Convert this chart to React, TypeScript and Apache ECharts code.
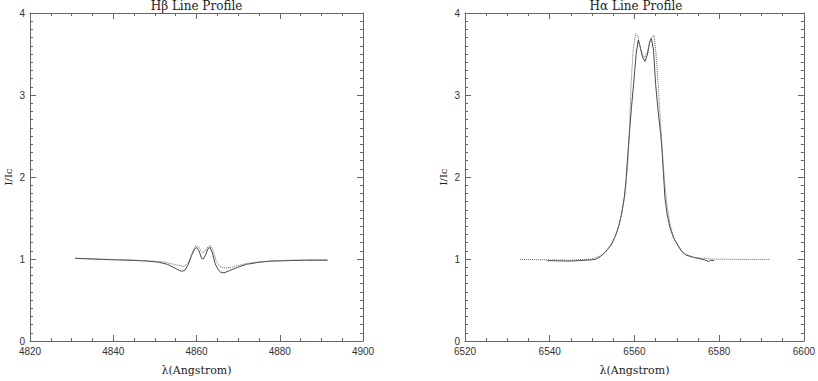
import React, { useEffect, useRef } from "react";
import * as echarts from "echarts";

const hbSolidX = [4830.8, 4835, 4840, 4844, 4848, 4851, 4853, 4854.4, 4855.5, 4856.4, 4857.2, 4858, 4858.8, 4859.5, 4860, 4860.6, 4861.2, 4861.6, 4862.1, 4862.8, 4863.3, 4863.9, 4864.5, 4865.2, 4865.8, 4866.6, 4868, 4870, 4872, 4875, 4878, 4882, 4886, 4891.5];
const hbSolidY = [1.01, 1.0, 0.99, 0.985, 0.975, 0.96, 0.935, 0.9, 0.87, 0.85, 0.86, 0.93, 1.04, 1.12, 1.14, 1.1, 1.01, 1.0, 1.04, 1.13, 1.14, 1.06, 0.94, 0.87, 0.84, 0.83, 0.86, 0.9, 0.935, 0.96, 0.975, 0.98, 0.985, 0.985];
const hbDotX = [4831, 4840, 4848, 4852, 4855, 4857, 4858, 4859, 4859.8, 4860.5, 4861.3, 4862, 4862.8, 4863.4, 4864, 4864.7, 4865.5, 4866.5, 4868, 4870, 4872, 4875, 4878, 4882, 4888, 4891.5];
const hbDotY = [1.005, 0.995, 0.98, 0.965, 0.93, 0.91, 0.95, 1.08, 1.16, 1.15, 1.08, 1.09, 1.15, 1.165, 1.1, 0.98, 0.91, 0.89, 0.895, 0.92, 0.945, 0.965, 0.975, 0.985, 0.99, 0.99];

const haSolidX = [6539.4, 6545, 6550, 6551, 6552, 6553.1, 6554.5, 6555.5, 6556.3, 6557, 6557.6, 6558, 6558.4, 6558.8, 6559.3, 6559.8, 6560.4, 6560.9, 6561.3, 6561.9, 6562.5, 6563.1, 6563.6, 6564.0, 6564.5, 6565.0, 6565.6, 6566.2, 6566.5, 6566.9, 6567.2, 6567.7, 6568.3, 6569.2, 6570.3, 6571.2, 6572.2, 6574, 6576.5, 6577.5, 6578, 6578.8];
const haSolidY = [0.98, 0.975, 0.99, 1.0, 1.03, 1.085, 1.17, 1.28, 1.4, 1.56, 1.75, 1.95, 2.25, 2.52, 2.85, 3.13, 3.5, 3.67, 3.6, 3.46, 3.41, 3.5, 3.65, 3.69, 3.55, 3.13, 2.8, 2.52, 2.34, 2.0, 1.75, 1.55, 1.4, 1.26, 1.165, 1.09, 1.047, 1.02, 0.99, 0.97, 0.985, 0.98];
const haDotX = [6533, 6540, 6545, 6550, 6552, 6553.5, 6555, 6556, 6557, 6557.8, 6558.4, 6558.8, 6559.2, 6559.7, 6560.3, 6560.8, 6561.5, 6562.3, 6563, 6563.8, 6564.6, 6565.1, 6565.6, 6566.1, 6566.6, 6567.1, 6567.7, 6568.5, 6569.5, 6570.7, 6572, 6574, 6578, 6585, 6592];
const haDotY = [0.995, 0.99, 0.985, 1.0, 1.04, 1.1, 1.22, 1.35, 1.55, 1.8, 2.15, 2.55, 3.13, 3.55, 3.75, 3.72, 3.55, 3.45, 3.52, 3.68, 3.73, 3.5, 3.13, 2.7, 2.3, 1.95, 1.65, 1.4, 1.23, 1.12, 1.06, 1.02, 1.0, 0.995, 0.995];

const titles = ["H\u03b2 Line Profile", "H\u03b1 Line Profile"];
const xRanges = [[4820, 4900], [6520, 6600]];
const xName = "\u03bb(Angstrom)";
const yName = "I/Ic";

const pair = (xs: number[], ys: number[]) => xs.map((x, i) => [x, ys[i]]);

export default function App() {
  const ref = useRef<HTMLDivElement>(null);
  useEffect(() => {
    if (!ref.current) return;
    const chart = echarts.init(ref.current, null, { renderer: "svg" });
    const axisColor = "#666";
    const labelFont = "Liberation Sans";
    const serif = "DejaVu Serif";
    const grids = [
      { left: 30, top: 13, width: 333, height: 339 },
      { left: 465, top: 13, width: 342, height: 339 },
    ];
    const xAxes: any[] = [];
    const yAxes: any[] = [];
    [0, 1].forEach((g) => {
      const base = {
        type: "value",
        gridIndex: g,
        min: xRanges[g][0],
        max: xRanges[g][1],
        interval: 20,
        splitLine: { show: false },
        axisLine: { show: true, onZero: false, lineStyle: { color: axisColor, width: 1 } },
        axisTick: { show: true, inside: true, length: 6, lineStyle: { color: axisColor } },
        minorTick: { show: true, splitNumber: 4, length: 3, lineStyle: { color: axisColor } },
      };
      xAxes.push({
        ...base,
        position: "bottom",
        name: xName,
        nameLocation: "middle",
        nameGap: 24,
        nameTextStyle: { fontFamily: serif, fontSize: 11, color: "#222" },
        axisLabel: {
          show: true,
          fontFamily: labelFont,
          fontSize: 10,
          color: "#333",
          margin: 5,
          formatter: (v: number) => String(v),
        },
      });
      xAxes.push({ ...base, position: "top", axisLabel: { show: false } });
      const ybase = {
        type: "value",
        gridIndex: g,
        min: 0,
        max: 4,
        interval: 1,
        splitLine: { show: false },
        axisLine: { show: true, onZero: false, lineStyle: { color: axisColor, width: 1 } },
        axisTick: { show: true, inside: true, length: 6, lineStyle: { color: axisColor } },
        minorTick: { show: true, splitNumber: 10, length: 3, lineStyle: { color: axisColor } },
      };
      yAxes.push({
        ...ybase,
        position: "left",
        name: yName,
        nameLocation: "middle",
        nameGap: 17,
        nameRotate: 90,
        nameTextStyle: { fontFamily: serif, fontSize: 10, color: "#222" },
        axisLabel: {
          show: true,
          fontFamily: labelFont,
          fontSize: 10,
          color: "#333",
          margin: 5,
          formatter: (v: number) => String(v),
        },
      });
      yAxes.push({ ...ybase, position: "right", axisLabel: { show: false } });
    });

    const solid = { type: "solid", color: "#333", width: 0.9 };
    const dotted = { type: "dotted", color: "#666", width: 1 };
    const mk = (data: number[][], g: number, ls: any) => ({
      type: "line",
      xAxisIndex: g * 2,
      yAxisIndex: g * 2,
      data,
      showSymbol: false,
      symbol: "none",
      lineStyle: ls,
      silent: true,
    });

    chart.setOption({
      animation: false,
      backgroundColor: "#fff",
      title: [0, 1].map((g) => ({
        text: titles[g],
        left: grids[g].left + grids[g].width / 2,
        top: 0,
        padding: 0,
        textAlign: "center",
        textStyle: { fontFamily: serif, fontSize: 12, lineHeight: 12, fontWeight: "normal", color: "#222" },
      })),
      grid: grids,
      xAxis: xAxes,
      yAxis: yAxes,
      series: [
        mk(pair(hbSolidX, hbSolidY), 0, solid),
        mk(pair(hbDotX, hbDotY), 0, dotted),
        mk(pair(haSolidX, haSolidY), 1, solid),
        mk(pair(haDotX, haDotY), 1, dotted),
      ],
    });
    return () => chart.dispose();
  }, []);
  return (
    <div
      ref={ref}
      style={{ position: "fixed", left: 0, top: 0, width: 818, height: 381, background: "#fff" }}
    />
  );
}
